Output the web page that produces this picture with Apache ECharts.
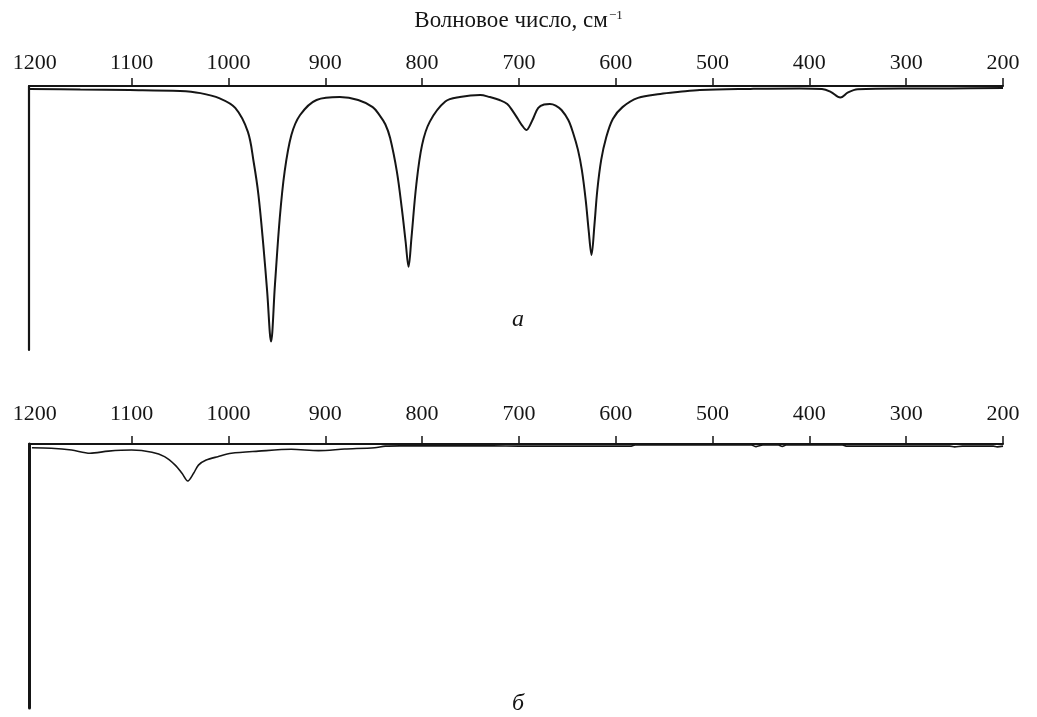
<!DOCTYPE html>
<html>
<head>
<meta charset="utf-8">
<script src="https://cdn.jsdelivr.net/npm/echarts@6/dist/echarts.min.js"></script>
<style>
  html, body { margin: 0; padding: 0; background: #ffffff; }
  #chart { width: 1037px; height: 717px; }
</style>
</head>
<body>
<div id="chart"></div>
<script>
// IR spectra: wavenumber (cm^-1) vs. transmittance (%)
const tickValues = [200, 300, 400, 500, 600, 700, 800, 900, 1000, 1100];
const labelValues = [200, 300, 400, 500, 600, 700, 800, 900, 1000, 1100, 1200];

// spectrum "а"
const wnA = [1205, 1153, 1102, 1050, 1029, 1009, 993, 980, 974, 969, 964, 960, 956, 952, 947, 942, 935, 926, 909, 885, 866,
  851, 844, 838, 833, 826, 821, 817, 814, 811, 806, 800, 792, 776, 761,
  740, 730, 720, 712, 706, 701, 697, 692, 689, 685, 680, 674, 668, 662, 656, 649, 644, 639, 635, 631, 628, 625,
  622, 619, 615, 610, 603, 593, 577, 554, 534, 513, 461, 410, 387, 378, 368, 360, 350, 306, 255, 200];
const tA = [98.9, 98.7, 98.5, 98.1, 97.3, 95.3, 91.7, 82.7, 71.3, 58.7, 39.8, 22.1, 3.2, 24.6, 50.0, 67.5, 81.4, 89.0, 94.7, 95.8, 94.7,
  92.0, 89.0, 85.5, 80.3, 67.5, 53.8, 41.0, 31.5, 42.4, 62.5, 77.7, 86.5, 94.1, 95.8,
  96.6, 95.8, 94.7, 93.2, 90.3, 87.5, 85.2, 83.3, 84.8, 87.9, 91.7, 93.0, 93.2, 92.6, 90.9, 87.1, 82.2, 75.8, 68.2, 56.8, 45.5, 36.0,
  47.3, 60.6, 72.0, 80.3, 87.5, 92.0, 95.5, 97.0, 97.8, 98.5, 98.9, 99.1, 98.9, 97.8, 95.6, 97.6, 98.8, 99.1, 99.1, 99.2];

// spectrum "б"
const wnB = [1203, 1183, 1162, 1143, 1124, 1100, 1079, 1066, 1055, 1048, 1042, 1036, 1031, 1023, 1011, 997, 969, 935, 907, 880,
  849, 838, 823, 727, 700, 584, 580, 460, 455, 448, 432, 428, 424, 366, 362, 255, 250, 242, 210, 206, 200];
const tB = [98.6, 98.4, 97.7, 96.5, 97.3, 97.7, 96.9, 95.2, 92.0, 88.9, 86.0, 88.9, 92.0, 93.9, 95.2, 96.5, 97.3, 98.0, 97.5, 98.1,
  98.6, 99.2, 99.3, 99.3, 99.2, 99.2, 99.6, 99.6, 99.0, 99.6, 99.6, 99.1, 99.6, 99.6, 99.2, 99.2, 98.9, 99.2, 99.2, 98.9, 99.2];

const FONT = 'Liberation Serif';
const INK = '#151515';

function makeXAxis(gridIndex, margin) {
  return {
    type: 'value',
    gridIndex: gridIndex,
    position: 'top',
    inverse: true,
    min: 200,
    max: 1206,
    axisLine: { show: true, onZero: false, lineStyle: { color: INK, width: 2 } },
    axisTick: { show: true, inside: false, length: 8, customValues: tickValues, lineStyle: { color: INK, width: 1.5 } },
    axisLabel: {
      show: true, margin: margin, customValues: labelValues,
      formatter: (v) => String(v),
      fontFamily: FONT, fontSize: 22, color: INK
    },
    splitLine: { show: false }
  };
}

function makeYAxis(gridIndex, width) {
  return {
    type: 'value',
    gridIndex: gridIndex,
    min: 0,
    max: 100,
    axisLine: { show: true, onZero: false, lineStyle: { color: INK, width: width } },
    axisTick: { show: false },
    axisLabel: { show: false },
    splitLine: { show: false }
  };
}

function pairs(xs, ys) {
  return xs.map((x, i) => [x, ys[i]]);
}

const chart = echarts.init(document.getElementById('chart'), null, { renderer: 'canvas' });
chart.setOption({
  backgroundColor: '#ffffff',
  animation: false,
  title: {
    text: '{t|Волновое число, см}{s|−1}',
    left: 'center',
    top: 4,
    textStyle: {
      fontWeight: 'normal',
      rich: {
        t: { fontFamily: FONT, fontSize: 23, fontWeight: 'normal', color: INK },
        s: { fontFamily: FONT, fontSize: 13, fontWeight: 'normal', color: INK, verticalAlign: 'top', padding: [0, 0, 10, 1] }
      }
    }
  },
  grid: [
    { left: 29, top: 86, width: 974, height: 264 },
    { left: 29, top: 444, width: 974, height: 264 }
  ],
  xAxis: [makeXAxis(0, 12), makeXAxis(1, 19)],
  yAxis: [makeYAxis(0, 2.2), makeYAxis(1, 3)],
  series: [
    {
      type: 'line', xAxisIndex: 0, yAxisIndex: 0,
      data: pairs(wnA, tA),
      showSymbol: false, smooth: 0.35,
      lineStyle: { color: INK, width: 2 }
    },
    {
      type: 'line', xAxisIndex: 1, yAxisIndex: 1,
      data: pairs(wnB, tB),
      showSymbol: false, smooth: 0.3,
      lineStyle: { color: INK, width: 1.6 }
    }
  ],
  graphic: [
    { type: 'text', left: 512, top: 308, style: { text: 'а', fontFamily: FONT, fontStyle: 'italic', fontSize: 24, fill: INK } },
    { type: 'text', left: 512, top: 692, style: { text: 'б', fontFamily: FONT, fontStyle: 'italic', fontSize: 24, fill: INK } }
  ]
});
</script>
</body>
</html>
